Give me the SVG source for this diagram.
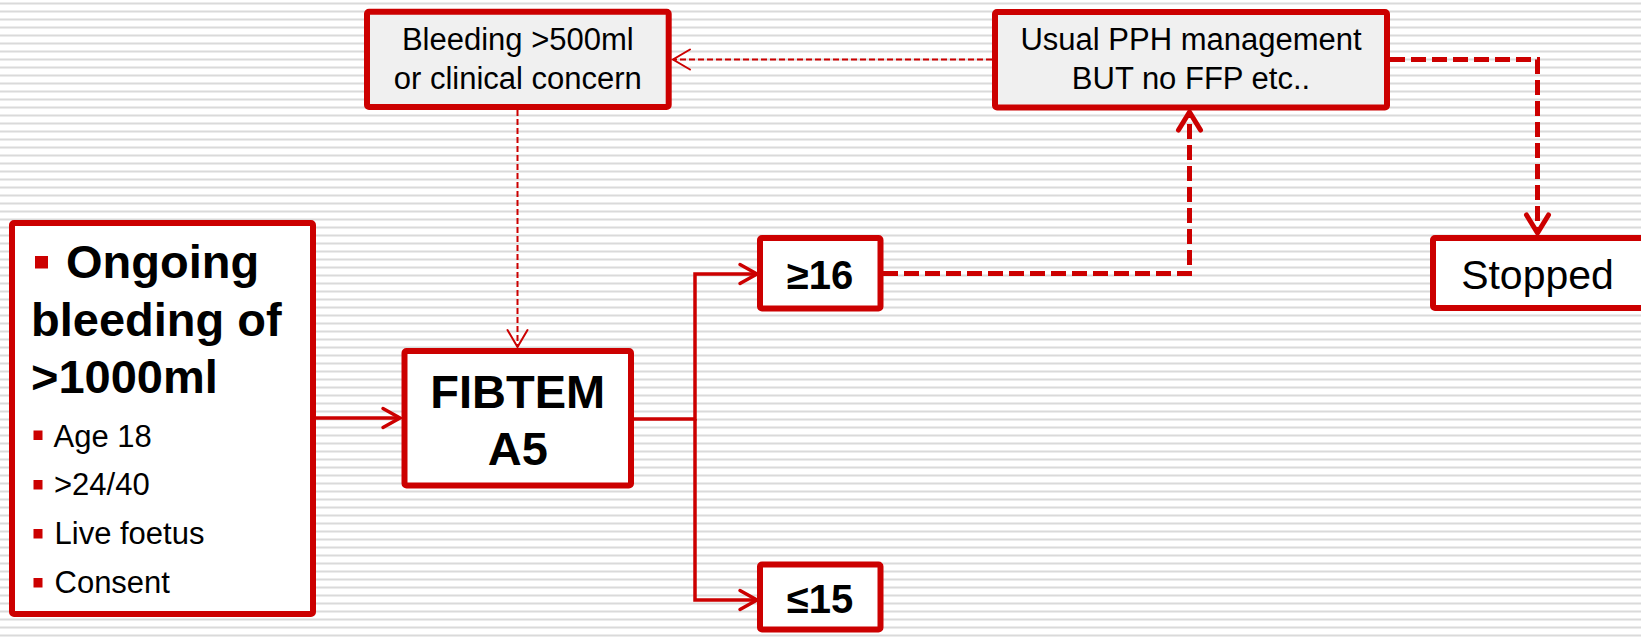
<svg xmlns="http://www.w3.org/2000/svg" width="1641" height="639" viewBox="0 0 1641 639">
<style>
.box{stroke:#cc0000;stroke-width:6;stroke-linejoin:round}
.white{fill:#ffffff}
.grey{fill:#f0f0f0}
.t{font-family:"Liberation Sans",Arial,sans-serif;fill:#000}
.b{font-weight:bold}
.c{text-anchor:middle}
.solid{fill:none;stroke:#cc0000;stroke-width:3.5;stroke-linejoin:miter}
.thin{fill:none;stroke:#cc0000;stroke-width:2;stroke-dasharray:6 3}
.thick{fill:none;stroke:#cc0000;stroke-width:5;stroke-dasharray:15 6;stroke-linejoin:miter}
.bul{fill:#cc0000}
</style>
<defs>
<pattern id="stripes" patternUnits="userSpaceOnUse" width="8" height="8">
<rect x="0" y="2.5" width="8" height="2" fill="#dadada"/>
</pattern>
<marker id="aSolid" markerUnits="userSpaceOnUse" viewBox="-22 -14 26 28" markerWidth="26" markerHeight="28" refX="0" refY="0" orient="auto">
<path d="M-17,-9.5 L0,0 L-17,9.5" fill="none" stroke="#cc0000" stroke-width="3.5" stroke-linecap="round" stroke-linejoin="miter"/>
</marker>
<marker id="aThin" markerUnits="userSpaceOnUse" viewBox="-22 -14 26 28" markerWidth="26" markerHeight="28" refX="0" refY="0" orient="auto">
<path d="M-17,-10 L0,0 L-17,10" fill="none" stroke="#cc0000" stroke-width="2" stroke-linecap="round"/>
</marker>
<marker id="aThick" markerUnits="userSpaceOnUse" viewBox="-24 -16 30 32" markerWidth="30" markerHeight="32" refX="0" refY="0" orient="auto">
<path d="M-18,-11 L0,0 L-18,11" fill="none" stroke="#cc0000" stroke-width="5" stroke-linecap="round" stroke-linejoin="round"/>
</marker>
</defs>
<rect x="0" y="0" width="1641" height="639" fill="#ffffff"/>
<rect x="0" y="0" width="1641" height="639" fill="url(#stripes)"/>

<g id="connectors">
<path class="solid" d="M316,418 H400" marker-end="url(#aSolid)"/>
<path class="solid" d="M634,419 H695 V274 H757" marker-end="url(#aSolid)"/>
<path class="solid" d="M695,419 V600 H757" marker-end="url(#aSolid)"/>
<path class="thin" d="M992,59.5 H673" marker-end="url(#aThin)"/>
<path class="thin" d="M517.5,110 V347" marker-end="url(#aThin)"/>
<path class="thick" d="M883,273.5 H1189.5 V112" marker-end="url(#aThick)"/>
<path class="thick" d="M1390,59.5 H1537.5 V233" marker-end="url(#aThick)"/>
</g>

<g id="node-main">
<rect class="box white" x="12" y="223" width="301" height="391" rx="2"/>
<rect class="bul" x="35" y="256" width="13" height="12.5"/>
<text class="t b" x="66" y="278" font-size="47">Ongoing</text>
<text class="t b" x="31" y="336" font-size="47">bleeding of</text>
<text class="t b" x="31" y="393" font-size="47">&gt;1000ml</text>
<rect class="bul" x="33.5" y="430.5" width="9" height="9.5"/>
<text class="t" x="53.5" y="447" font-size="31">Age 18</text>
<rect class="bul" x="33.5" y="480" width="9" height="9.5"/>
<text class="t" x="54" y="495" font-size="31">&gt;24/40</text>
<rect class="bul" x="33.5" y="529" width="9" height="9.5"/>
<text class="t" x="54.5" y="543.5" font-size="31">Live foetus</text>
<rect class="bul" x="33.5" y="578" width="9" height="9.5"/>
<text class="t" x="54.5" y="593" font-size="31">Consent</text>
</g>

<g id="node-fibtem">
<rect class="box white" x="404.5" y="351" width="226.5" height="134.5" rx="2"/>
<text class="t b c" x="517.75" y="408" font-size="47">FIBTEM</text>
<text class="t b c" x="517.75" y="465" font-size="47">A5</text>
</g>

<g id="node-ge16">
<rect class="box white" x="760" y="238" width="120.5" height="70.5" rx="2"/>
<text class="t b c" x="820" y="289" font-size="40">≥16</text>
</g>

<g id="node-le15">
<rect class="box white" x="760" y="564.5" width="120.5" height="65" rx="2"/>
<text class="t b c" x="820" y="613" font-size="40">≤15</text>
</g>

<g id="node-bleeding">
<rect class="box grey" x="367" y="11.7" width="301.7" height="95.3" rx="2"/>
<text class="t c" x="517.8" y="50" font-size="31">Bleeding &gt;500ml</text>
<text class="t c" x="517.8" y="88.5" font-size="31">or clinical concern</text>
</g>

<g id="node-usual">
<rect class="box grey" x="995" y="12" width="392" height="95.5" rx="2"/>
<text class="t c" x="1191" y="50" font-size="31">Usual PPH management</text>
<text class="t c" x="1191" y="88.5" font-size="31">BUT no FFP etc..</text>
</g>

<g id="node-stopped">
<rect class="box white" x="1433" y="238" width="212" height="70" rx="2"/>
<text class="t c" x="1537.5" y="288.5" font-size="41">Stopped</text>
</g>
</svg>
